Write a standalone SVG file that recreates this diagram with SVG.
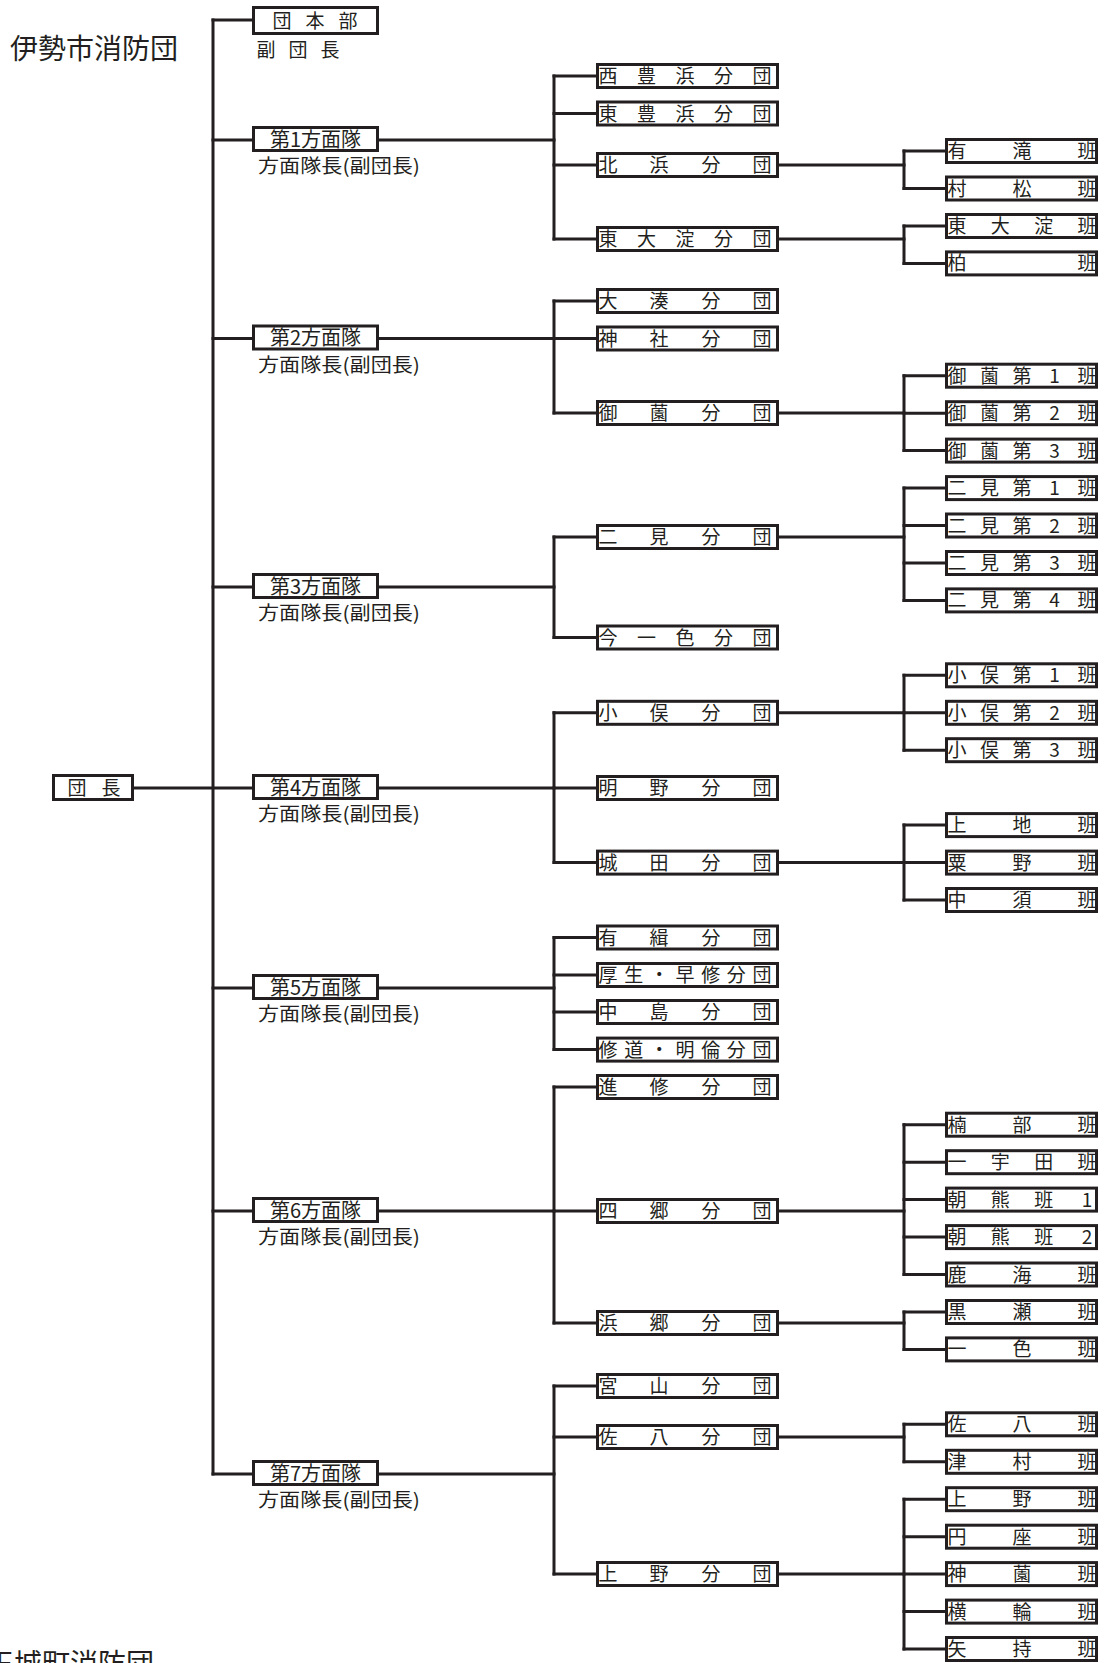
<svg xmlns="http://www.w3.org/2000/svg" width="1107" height="1663" viewBox="0 0 1107 1663">
<style>
text{font-family:"Noto Sans CJK JP","Noto Sans",sans-serif;fill:#231f20}
.t{font-size:28px}
.b{font-size:19px;text-anchor:middle}
.s{font-size:19px}
.m{font-size:20px;text-anchor:middle}
rect{fill:#fff;stroke:#231f20;stroke-width:3}
.ln path{fill:none;stroke:#231f20;stroke-width:3;stroke-linecap:square}
</style>
<rect x="0" y="0" width="1107" height="1663" style="stroke:none"/>
<text class="t" x="10" y="59">伊勢市消防団</text>
<text class="t" x="-14" y="1674">玉城町消防団</text>

<g class="ln">
<path d="M134,788 H252"/>
<path d="M213,20 V1474"/>
<path d="M213,20 H252 M213,140 H252 M213,338.5 H252 M213,587 H252 M213,988 H252 M213,1211 H252 M213,1474 H252"/>
<path d="M379,140 H554 M379,338.5 H554 M379,587 H554 M379,788 H554 M379,988 H554 M379,1211 H554 M379,1474 H554"/>
<path d="M554,76 V239 M554,301 V413 M554,537 V637.5 M554,712.8 V862.6 M554,937.5 V1049.6 M554,1087 V1323 M554,1386 V1574"/>
<path d="M554,76 H596 M554,113.5 H596 M554,165 H596 M554,239 H596 M554,301 H596 M554,338.5 H596 M554,413 H596 M554,537 H596 M554,637.5 H596 M554,712.8 H596 M554,788 H596 M554,862.6 H596 M554,937.5 H596 M554,975 H596 M554,1012 H596 M554,1049.6 H596 M554,1087 H596 M554,1211 H596 M554,1323 H596 M554,1386 H596 M554,1437 H596 M554,1574 H596"/>
<path d="M779,165 H904 M779,239 H904 M779,413 H904 M779,537 H904 M779,712.8 H904 M779,862.6 H904 M779,1211 H904 M779,1323 H904 M779,1437 H904 M779,1574 H904"/>
<path d="M904,151 V188.5 M904,226 V263.4 M904,375.7 V450.6 M904,488 V600.4 M904,675.3 V750.2 M904,825.1 V900 M904,1124.7 V1274.5 M904,1312 V1349.4 M904,1424.3 V1461.8 M904,1499.2 V1649"/>
<path d="M904,151 H945 M904,188.5 H945 M904,226 H945 M904,263.4 H945 M904,375.7 H945 M904,413.2 H945 M904,450.6 H945 M904,488.1 H945 M904,525.5 H945 M904,563 H945 M904,600.4 H945 M904,675.3 H945 M904,712.8 H945 M904,750.2 H945 M904,825.1 H945 M904,862.6 H945 M904,900 H945 M904,1124.7 H945 M904,1162.2 H945 M904,1199.6 H945 M904,1237.1 H945 M904,1274.5 H945 M904,1312 H945 M904,1349.4 H945 M904,1424.3 H945 M904,1461.8 H945 M904,1499.2 H945 M904,1536.7 H945 M904,1574.1 H945 M904,1611.6 H945 M904,1649 H945"/>
</g>

<g id="dancho"><rect x="53.5" y="775.5" width="79" height="24"/><text class="b" x="77 111" y="794.5">団長</text></g>

<g id="honbu"><rect x="253.5" y="7.5" width="124" height="26"/><text class="b" x="282 315 348" y="27.5">団本部</text><text class="b" x="266 298 330" y="57">副団長</text></g>
<g id="h1"><rect x="253.5" y="127.5" width="124" height="23"/><text class="m" x="315.5" y="146.5">第1方面隊</text><text class="s" x="258" y="173" textLength="162" lengthAdjust="spacingAndGlyphs">方面隊長(副団長)</text></g>
<g id="h2"><rect x="253.5" y="326" width="124" height="23"/><text class="m" x="315.5" y="345">第2方面隊</text><text class="s" x="258" y="371.5" textLength="162" lengthAdjust="spacingAndGlyphs">方面隊長(副団長)</text></g>
<g id="h3"><rect x="253.5" y="574.5" width="124" height="23"/><text class="m" x="315.5" y="593.5">第3方面隊</text><text class="s" x="258" y="620" textLength="162" lengthAdjust="spacingAndGlyphs">方面隊長(副団長)</text></g>
<g id="h4"><rect x="253.5" y="775.5" width="124" height="23"/><text class="m" x="315.5" y="794.5">第4方面隊</text><text class="s" x="258" y="821" textLength="162" lengthAdjust="spacingAndGlyphs">方面隊長(副団長)</text></g>
<g id="h5"><rect x="253.5" y="975.5" width="124" height="23"/><text class="m" x="315.5" y="994.5">第5方面隊</text><text class="s" x="258" y="1021" textLength="162" lengthAdjust="spacingAndGlyphs">方面隊長(副団長)</text></g>
<g id="h6"><rect x="253.5" y="1198.5" width="124" height="23"/><text class="m" x="315.5" y="1217.5">第6方面隊</text><text class="s" x="258" y="1244" textLength="162" lengthAdjust="spacingAndGlyphs">方面隊長(副団長)</text></g>
<g id="h7"><rect x="253.5" y="1461.5" width="124" height="23"/><text class="m" x="315.5" y="1480.5">第7方面隊</text><text class="s" x="258" y="1507" textLength="162" lengthAdjust="spacingAndGlyphs">方面隊長(副団長)</text></g>

<g id="b1"><rect x="597.5" y="64.5" width="180" height="23"/><text class="b" x="608 646.5 685 723.5 762" y="83">西豊浜分団</text></g>
<g id="b2"><rect x="597.5" y="102" width="180" height="23"/><text class="b" x="608 646.5 685 723.5 762" y="120.5">東豊浜分団</text></g>
<g id="b3"><rect x="597.5" y="153.5" width="180" height="23"/><text class="b" x="608 659 711 762" y="172">北浜分団</text></g>
<g id="b4"><rect x="597.5" y="227.5" width="180" height="23"/><text class="b" x="608 646.5 685 723.5 762" y="246">東大淀分団</text></g>
<g id="b5"><rect x="597.5" y="289.5" width="180" height="23"/><text class="b" x="608 659 711 762" y="308">大湊分団</text></g>
<g id="b6"><rect x="597.5" y="327" width="180" height="23"/><text class="b" x="608 659 711 762" y="345.5">神社分団</text></g>
<g id="b7"><rect x="597.5" y="401.5" width="180" height="23"/><text class="b" x="608 659 711 762" y="420">御薗分団</text></g>
<g id="b8"><rect x="597.5" y="525.5" width="180" height="23"/><text class="b" x="608 659 711 762" y="544">二見分団</text></g>
<g id="b9"><rect x="597.5" y="626" width="180" height="23"/><text class="b" x="608 646.5 685 723.5 762" y="644.5">今一色分団</text></g>
<g id="b10"><rect x="597.5" y="701.3" width="180" height="23"/><text class="b" x="608 659 711 762" y="719.8">小俣分団</text></g>
<g id="b11"><rect x="597.5" y="776.5" width="180" height="23"/><text class="b" x="608 659 711 762" y="795">明野分団</text></g>
<g id="b12"><rect x="597.5" y="851.1" width="180" height="23"/><text class="b" x="608 659 711 762" y="869.6">城田分団</text></g>
<g id="b13"><rect x="597.5" y="926" width="180" height="23"/><text class="b" x="608 659 711 762" y="944.5">有緝分団</text></g>
<g id="b14"><rect x="597.5" y="963.5" width="180" height="23"/><text class="b" x="608 633.7 659.3 685 710.7 736.3 762" y="982">厚生・早修分団</text></g>
<g id="b15"><rect x="597.5" y="1000.5" width="180" height="23"/><text class="b" x="608 659 711 762" y="1019">中島分団</text></g>
<g id="b16"><rect x="597.5" y="1038.1" width="180" height="23"/><text class="b" x="608 633.7 659.3 685 710.7 736.3 762" y="1056.6">修道・明倫分団</text></g>
<g id="b17"><rect x="597.5" y="1075.5" width="180" height="23"/><text class="b" x="608 659 711 762" y="1094">進修分団</text></g>
<g id="b18"><rect x="597.5" y="1199.5" width="180" height="23"/><text class="b" x="608 659 711 762" y="1218">四郷分団</text></g>
<g id="b19"><rect x="597.5" y="1311.5" width="180" height="23"/><text class="b" x="608 659 711 762" y="1330">浜郷分団</text></g>
<g id="b20"><rect x="597.5" y="1374.5" width="180" height="23"/><text class="b" x="608 659 711 762" y="1393">宮山分団</text></g>
<g id="b21"><rect x="597.5" y="1425.5" width="180" height="23"/><text class="b" x="608 659 711 762" y="1444">佐八分団</text></g>
<g id="b22"><rect x="597.5" y="1562.5" width="180" height="23"/><text class="b" x="608 659 711 762" y="1581">上野分団</text></g>

<g id="c1"><rect x="946.5" y="139.5" width="150" height="23"/><text class="b" x="957 1022 1087" y="158">有滝班</text></g>
<g id="c2"><rect x="946.5" y="177" width="150" height="23"/><text class="b" x="957 1022 1087" y="195.5">村松班</text></g>
<g id="c3"><rect x="946.5" y="214.5" width="150" height="23"/><text class="b" x="957 1000.3 1043.7 1087" y="233">東大淀班</text></g>
<g id="c4"><rect x="946.5" y="251.9" width="150" height="23"/><text class="b" x="957 1087" y="270.4">柏班</text></g>
<g id="c5"><rect x="946.5" y="364.2" width="150" height="23"/><text class="b" x="957 989.5 1022 1054.5 1087" y="382.7">御薗第1班</text></g>
<g id="c6"><rect x="946.5" y="401.7" width="150" height="23"/><text class="b" x="957 989.5 1022 1054.5 1087" y="420.2">御薗第2班</text></g>
<g id="c7"><rect x="946.5" y="439.1" width="150" height="23"/><text class="b" x="957 989.5 1022 1054.5 1087" y="457.6">御薗第3班</text></g>
<g id="c8"><rect x="946.5" y="476.6" width="150" height="23"/><text class="b" x="957 989.5 1022 1054.5 1087" y="495.1">二見第1班</text></g>
<g id="c9"><rect x="946.5" y="514" width="150" height="23"/><text class="b" x="957 989.5 1022 1054.5 1087" y="532.5">二見第2班</text></g>
<g id="c10"><rect x="946.5" y="551.5" width="150" height="23"/><text class="b" x="957 989.5 1022 1054.5 1087" y="570">二見第3班</text></g>
<g id="c11"><rect x="946.5" y="588.9" width="150" height="23"/><text class="b" x="957 989.5 1022 1054.5 1087" y="607.4">二見第4班</text></g>
<g id="c12"><rect x="946.5" y="663.8" width="150" height="23"/><text class="b" x="957 989.5 1022 1054.5 1087" y="682.3">小俣第1班</text></g>
<g id="c13"><rect x="946.5" y="701.3" width="150" height="23"/><text class="b" x="957 989.5 1022 1054.5 1087" y="719.8">小俣第2班</text></g>
<g id="c14"><rect x="946.5" y="738.7" width="150" height="23"/><text class="b" x="957 989.5 1022 1054.5 1087" y="757.2">小俣第3班</text></g>
<g id="c15"><rect x="946.5" y="813.6" width="150" height="23"/><text class="b" x="957 1022 1087" y="832.1">上地班</text></g>
<g id="c16"><rect x="946.5" y="851.1" width="150" height="23"/><text class="b" x="957 1022 1087" y="869.6">粟野班</text></g>
<g id="c17"><rect x="946.5" y="888.5" width="150" height="23"/><text class="b" x="957 1022 1087" y="907">中須班</text></g>
<g id="c18"><rect x="946.5" y="1113.2" width="150" height="23"/><text class="b" x="957 1022 1087" y="1131.7">楠部班</text></g>
<g id="c19"><rect x="946.5" y="1150.7" width="150" height="23"/><text class="b" x="957 1000.3 1043.7 1087" y="1169.2">一宇田班</text></g>
<g id="c20"><rect x="946.5" y="1188.1" width="150" height="23"/><text class="b" x="957 1000.3 1043.7 1087" y="1206.6">朝熊班1</text></g>
<g id="c21"><rect x="946.5" y="1225.6" width="150" height="23"/><text class="b" x="957 1000.3 1043.7 1087" y="1244.1">朝熊班2</text></g>
<g id="c22"><rect x="946.5" y="1263" width="150" height="23"/><text class="b" x="957 1022 1087" y="1281.5">鹿海班</text></g>
<g id="c23"><rect x="946.5" y="1300.5" width="150" height="23"/><text class="b" x="957 1022 1087" y="1319">黒瀬班</text></g>
<g id="c24"><rect x="946.5" y="1337.9" width="150" height="23"/><text class="b" x="957 1022 1087" y="1356.4">一色班</text></g>
<g id="c25"><rect x="946.5" y="1412.8" width="150" height="23"/><text class="b" x="957 1022 1087" y="1431.3">佐八班</text></g>
<g id="c26"><rect x="946.5" y="1450.3" width="150" height="23"/><text class="b" x="957 1022 1087" y="1468.8">津村班</text></g>
<g id="c27"><rect x="946.5" y="1487.7" width="150" height="23"/><text class="b" x="957 1022 1087" y="1506.2">上野班</text></g>
<g id="c28"><rect x="946.5" y="1525.2" width="150" height="23"/><text class="b" x="957 1022 1087" y="1543.7">円座班</text></g>
<g id="c29"><rect x="946.5" y="1562.6" width="150" height="23"/><text class="b" x="957 1022 1087" y="1581.1">神薗班</text></g>
<g id="c30"><rect x="946.5" y="1600.1" width="150" height="23"/><text class="b" x="957 1022 1087" y="1618.6">横輪班</text></g>
<g id="c31"><rect x="946.5" y="1637.5" width="150" height="23"/><text class="b" x="957 1022 1087" y="1656">矢持班</text></g>
</svg>
